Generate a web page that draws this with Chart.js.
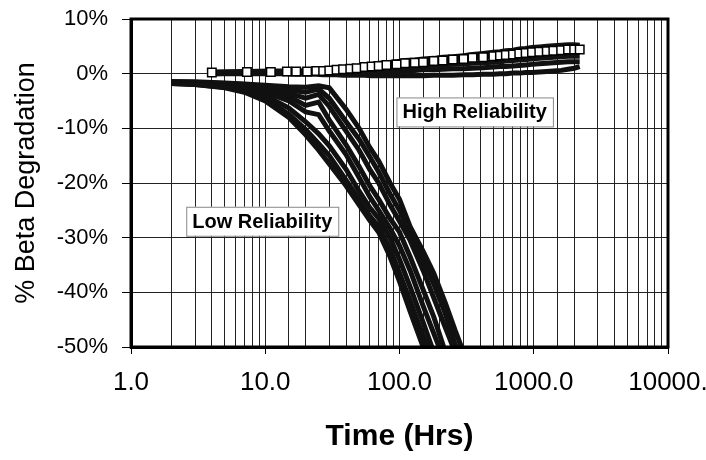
<!DOCTYPE html>
<html>
<head>
<meta charset="utf-8">
<script src="https://cdn.jsdelivr.net/npm/chart.js@4.4.0/dist/chart.umd.min.js"></script>
<style>
  body { margin: 0; background: #fff; }
  #wrap { width: 706px; height: 460px; }
</style>
</head>
<body>
<div id="wrap"><canvas id="betaChart" width="706" height="460"></canvas></div>
<script>
// time points (hrs) for the low reliability parts
const lowTimes = [2, 3, 5, 7, 10, 15, 20, 25, 30, 40, 50, 60, 70, 85, 100, 120, 150, 180, 220, 260, 300, 350]
const low1 = [-1.8, -2.0, -2.6, -3.4, -5.0, -8.0, -11.2, -14, -16.5, -20.5, -24, -26.8, -29, -33.5, -38, -43.5, -50, -55, -60, null, null, null]
const low2 = [-1.8, -2.0, -2.5, -3.2, -4.6, -7.4, -10.2, -12.8, -15, -19.5, -23, -26, -28, -32, -36.5, -41.5, -48, -53, -58, null, null, null]
const low3 = [-1.7, -1.9, -2.3, -2.9, -4.0, -6.3, -8.8, -11, -13.2, -17.5, -21.5, -24.5, -26.5, -30, -34, -39, -45.5, -51, -56, null, null, null]
const low4 = [-1.6, -1.8, -2.2, -2.6, -3.4, -5.0, -7.0, -7.5, -10.5, -14.8, -19, -22.5, -25, -28.3, -31.5, -36, -42.5, -47.5, -53, -57, null, null]
const low5 = [-1.6, -1.7, -2.0, -2.4, -3.0, -4.2, -5.8, -5.2, -8.5, -13, -17, -20.5, -23, -26.5, -29, -33.5, -39.5, -44.5, -51, -55, null, null]
const low6 = [-1.5, -1.6, -1.9, -2.2, -2.7, -3.6, -4.5, -3.8, -6, -10.5, -14, -17.5, -20, -24, -27, -30.5, -36, -41, -46.5, -51, -55, null]
const low7 = [-1.5, -1.6, -1.8, -2.0, -2.4, -3.0, -3.4, -2.8, -4.5, -8.8, -12, -15.2, -18, -22, -25, -29.3, -34, -38.5, -44, -49.5, -53, null]
const low8 = [-1.5, -1.5, -1.7, -1.9, -2.1, -2.4, -2.5, -2.2, -2.6, -6.5, -10, -13.5, -16, -20, -23, -28, -32.5, -36.5, -42, -47, -51, -55]

// time points (hrs) for the high reliability parts
const highTimes = [4, 7.3, 11, 14.5, 17, 20.5, 24, 27, 30, 34, 38, 43, 48, 55, 62, 70, 80, 95, 110, 130,
  150, 180, 210, 250, 300, 350, 420, 500, 560, 620, 700, 780, 870, 970, 1100, 1250, 1400, 1600, 1800, 2000, 2200]
const highA = [0.3, 0.4, 0.5, 0.5, 0.5, 0.6, 0.6, 0.7, 0.8, 0.9, 1.0, 1.2, 1.3, 1.5, 1.7, 1.9, 2.0, 2.2, 2.4, 2.5,
  2.7, 2.8, 3.0, 3.1, 3.3, 3.5, 3.7, 3.9, 4.0, 4.2, 4.3, 4.5, 4.6, 4.8, 4.9, 5.0, 5.1, 5.2, 5.3, 5.3, 5.2]
const highB = [0.2, 0.3, 0.3, 0.4, 0.4, 0.4, 0.5, 0.5, 0.6, 0.7, 0.8, 0.9, 1.0, 1.2, 1.3, 1.4, 1.6, 1.7, 1.9, 2.0,
  2.1, 2.3, 2.4, 2.6, 2.7, 2.9, 3.0, 3.2, 3.3, 3.4, 3.5, 3.7, 3.8, 3.9, 4.0, 4.1, 4.2, 4.3, 4.4, 4.4, 4.4]
const highC = [0.1, 0.2, 0.2, 0.2, 0.3, 0.3, 0.3, 0.3, 0.4, 0.4, 0.5, 0.6, 0.6, 0.7, 0.8, 0.9, 1.0, 1.1, 1.2, 1.3,
  1.4, 1.5, 1.6, 1.7, 1.8, 1.9, 2.0, 2.1, 2.2, 2.3, 2.4, 2.5, 2.6, 2.7, 2.8, 2.9, 3.0, 3.1, 3.2, 3.2, 3.2]
const highD = [0.0, 0.1, 0.1, 0.1, 0.1, 0.1, 0.1, 0.1, 0.2, 0.2, 0.2, 0.3, 0.3, 0.3, 0.4, 0.4, 0.5, 0.5, 0.6, 0.6,
  0.7, 0.7, 0.8, 0.9, 0.9, 1.0, 1.1, 1.2, 1.3, 1.3, 1.4, 1.5, 1.6, 1.7, 1.8, 1.9, 2.0, 2.1, 2.2, 2.2, 2.2]
const highE = [0.0, 0.0, 0.0, 0.0, -0.1, -0.1, -0.1, -0.2, -0.2, -0.2, -0.3, -0.3, -0.3, -0.3, -0.4, -0.4, -0.4, -0.4, -0.4, -0.4,
  -0.4, -0.3, -0.3, -0.3, -0.2, -0.2, -0.1, -0.1, 0.0, 0.0, 0.1, 0.1, 0.2, 0.2, 0.3, 0.4, 0.5, 0.6, 0.8, 1.0, 1.3]

const xTickLabels = ["1.0", "10.0", "100.0", "1000.0", "10000."]
const labelNotes = [
  { text: "High Reliability", t: 363, pct: -7.0 },
  { text: "Low Reliability", t: 9.5, pct: -27.0 }
]

const FONT = "Arial, 'Liberation Sans', sans-serif"

function pts(times, vals) {
  let out = []
  times.forEach((t, i) => { if (vals[i] !== null) out.push({ x: t, y: vals[i] }) })
  return out
}

function lineSet(times, vals, extra) {
  return Object.assign({
    data: pts(times, vals),
    borderColor: "#111",
    borderWidth: 5,
    pointRadius: 0,
    tension: 0,
    fill: false
  }, extra || {})
}

// frame round the plot plus the two boxed notes
const framePlugin = {
  id: "frame",
  afterDatasetsDraw(chart) {
    const { ctx, chartArea: a, scales } = chart
    ctx.save()
    ctx.strokeStyle = "#000"
    ctx.lineWidth = 3
    ctx.strokeRect(a.left, a.top, a.right - a.left, a.bottom - a.top)
    ctx.font = "bold 20px " + FONT
    ctx.textAlign = "center"
    ctx.textBaseline = "middle"
    labelNotes.forEach(n => {
      const x = scales.x.getPixelForValue(n.t)
      const y = scales.y.getPixelForValue(n.pct)
      const w = ctx.measureText(n.text).width + 12
      const h = 29
      ctx.fillStyle = "#fff"
      ctx.fillRect(x - w / 2, y - h / 2, w, h)
      ctx.strokeStyle = "#888"
      ctx.lineWidth = 1
      ctx.strokeRect(x - w / 2 + 0.5, y - h / 2 + 0.5, w, h)
      ctx.fillStyle = "#000"
      ctx.fillText(n.text, x, y + 1)
    })
    ctx.restore()
  }
}

function isDecade(v) {
  const e = Math.log10(v)
  return Math.abs(e - Math.round(e)) < 1e-9
}

const chartArea = document.getElementById("betaChart").getContext("2d")
new Chart(chartArea, {
  type: "line",
  data: {
    datasets: [
      lineSet(highTimes, highB, { pointRadius: 6, pointStyle: "rect", pointBackgroundColor: "#fff", pointBorderColor: "#000", pointBorderWidth: 1.5 }),
      lineSet(highTimes, highA),
      lineSet(highTimes, highC),
      lineSet(highTimes, highD),
      lineSet(highTimes, highE),
      lineSet(lowTimes, low1),
      lineSet(lowTimes, low2),
      lineSet(lowTimes, low3),
      lineSet(lowTimes, low4),
      lineSet(lowTimes, low5),
      lineSet(lowTimes, low6),
      lineSet(lowTimes, low7),
      lineSet(lowTimes, low8)
    ]
  },
  options: {
    responsive: false,
    animation: false,
    devicePixelRatio: 1,
    layout: { padding: { top: 19, right: 38, left: 0, bottom: 0 } },
    plugins: { legend: { display: false }, tooltip: { enabled: false } },
    scales: {
      x: {
        type: "logarithmic",
        min: 1,
        max: 10000,
        afterFit: s => { s.height = 113; s.paddingLeft = 0; s.paddingRight = 0 },
        grid: {
          color: "#222",
          lineWidth: 1,
          tickLength: 7,
          tickColor: c => (c.tick && isDecade(c.tick.value)) ? "#000" : "rgba(0,0,0,0)"
        },
        border: { display: true, color: "#000", width: 3 },
        ticks: {
          autoSkip: false,
          maxRotation: 0,
          padding: 13,
          color: "#000",
          font: { family: FONT, size: 26 },
          callback: v => isDecade(v) ? xTickLabels[Math.round(Math.log10(v))] : ""
        },
        title: {
          display: true,
          text: "Time (Hrs)",
          color: "#000",
          font: { family: FONT, size: 30, weight: "bold" },
          padding: { top: 0, bottom: 5 }
        }
      },
      y: {
        min: -50,
        max: 10,
        afterFit: s => { s.width = 131; s.paddingTop = 0; s.paddingBottom = 0 },
        grid: { color: "#222", lineWidth: 1, tickLength: 9, tickColor: "#000" },
        border: { display: true, color: "#000", width: 3 },
        ticks: {
          stepSize: 10,
          padding: 14,
          color: "#000",
          font: { family: FONT, size: 22 },
          callback: v => v + "%"
        },
        title: {
          display: true,
          text: "% Beta Degradation",
          color: "#000",
          font: { family: FONT, size: 27 },
          padding: { top: 10, bottom: 0 }
        }
      }
    }
  },
  plugins: [framePlugin]
})
</script>
</body>
</html>
